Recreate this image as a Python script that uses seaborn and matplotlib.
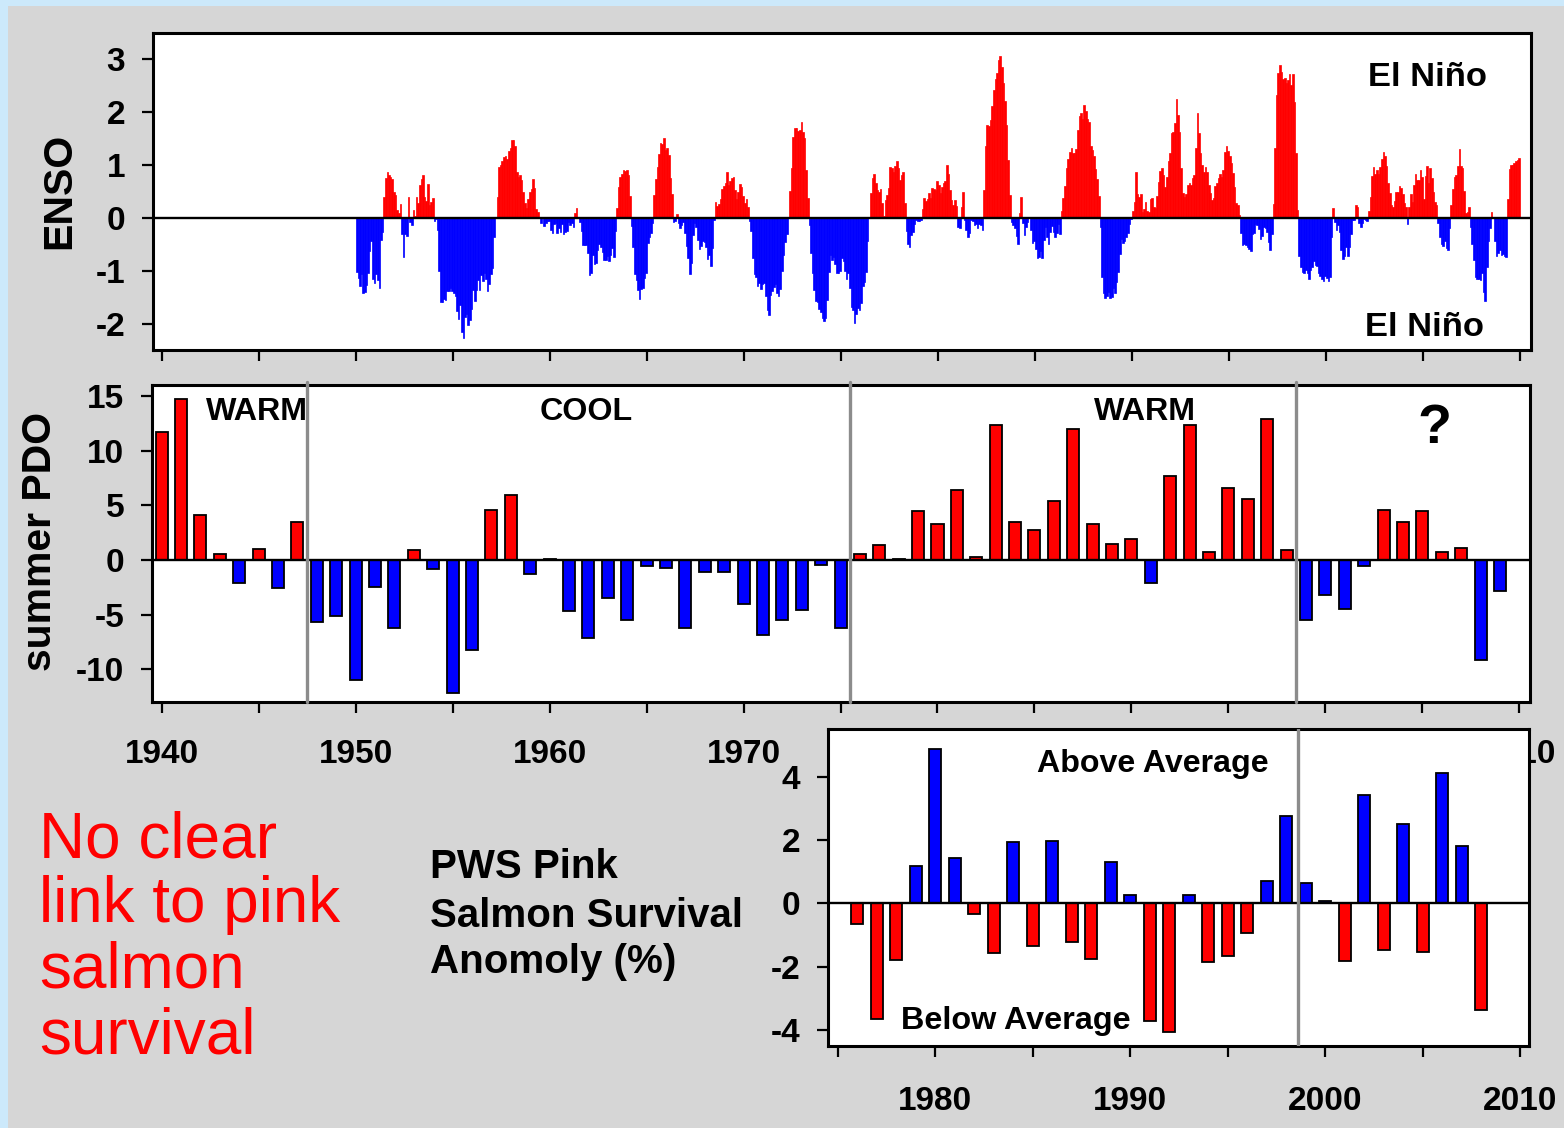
import numpy as np
import pandas as pd
import matplotlib
matplotlib.use("Agg")
import matplotlib.pyplot as plt
from matplotlib.patches import Rectangle
import seaborn as sns

# ---------------- DATA ----------------
# ENSO index, monthly values Jan..Dec for each year (one row per year)
enso_first_year = 1950
enso_1950s = [
    -1.03, -1.13, -1.28, -1.07, -1.43, -1.41, -1.27, -1.04, -0.63, -0.44, -1.15, -1.24,
    -1.06, -1.17, -1.33, -0.41, -0.27, 0.40, 0.75, 0.86, 0.82, 0.78, 0.73, 0.50,
    0.44, 0.15, 0.09, 0.26, -0.31, -0.74, -0.30, -0.34, 0.40, -0.07, -0.14, 0.15,
    0.03, 0.40, 0.28, 0.62, 0.73, 0.81, 0.40, 0.32, 0.64, 0.25, 0.31, 0.37,
    -0.05, -0.02, -0.22, -1.01, -1.59, -1.59, -1.54, -1.55, -1.39, -1.39, -1.32, -1.39,
    -1.43, -1.48, -1.77, -1.92, -1.65, -2.16, -2.27, -1.87, -1.82, -2.02, -1.94, -1.72,
    -1.37, -1.57, -1.37, -1.18, -1.37, -1.08, -1.20, -1.05, -1.16, -1.38, -1.25, -1.06,
    -0.94, -0.36, 0.01, 0.40, 0.97, 1.01, 1.07, 1.15, 1.17, 1.12, 1.27, 1.33,
    1.48, 1.48, 1.36, 0.87, 0.77, 0.82, 0.72, 0.49, 0.29, 0.18, 0.35, 0.50,
    0.54, 0.73, 0.56, 0.16, 0.12, -0.01, -0.09, -0.01, -0.15, -0.10, -0.05, -0.05,
]
enso_1960s = [
    -0.23, -0.29, -0.11, -0.09, -0.29, -0.20, -0.27, -0.12, -0.30, -0.26, -0.24, -0.08,
    -0.13, -0.09, -0.18, 0.09, 0.19, -0.01, -0.08, -0.25, -0.51, -0.51, -0.52, -0.67,
    -1.08, -1.05, -0.70, -0.87, -0.85, -0.61, -0.49, -0.55, -0.65, -0.79, -0.80, -0.72,
    -0.81, -0.70, -0.57, -0.74, -0.24, 0.18, 0.58, 0.77, 0.84, 0.90, 0.88, 0.91,
    0.81, 0.41, -0.16, -0.55, -1.06, -1.17, -1.36, -1.53, -1.34, -1.33, -1.14, -1.05,
    -0.48, -0.36, -0.28, -0.10, 0.44, 0.74, 0.96, 1.21, 1.41, 1.39, 1.51, 1.29,
    1.32, 1.19, 0.75, 0.46, -0.07, -0.05, 0.07, -0.10, -0.19, -0.14, -0.07, -0.28,
    -0.53, -0.76, -1.07, -0.85, -0.32, -0.09, -0.18, -0.41, -0.58, -0.53, -0.43, -0.45,
    -0.55, -0.78, -0.70, -0.91, -0.57, -0.03, 0.31, 0.23, 0.26, 0.35, 0.54, 0.60,
    0.66, 0.87, 0.63, 0.69, 0.75, 0.77, 0.53, 0.35, 0.49, 0.65, 0.58, 0.42,
]
enso_1970s = [
    0.29, 0.35, 0.20, -0.06, -0.24, -0.75, -1.06, -1.11, -1.28, -1.23, -1.34, -1.25,
    -1.23, -1.48, -1.75, -1.84, -1.46, -1.38, -1.31, -1.25, -1.42, -1.47, -1.34, -1.00,
    -0.70, -0.46, -0.31, 0.01, 0.51, 0.95, 1.54, 1.70, 1.71, 1.64, 1.66, 1.82,
    1.63, 1.51, 0.90, 0.38, -0.13, -0.67, -1.04, -1.36, -1.58, -1.60, -1.72, -1.78,
    -1.90, -1.96, -1.90, -1.56, -1.03, -0.70, -0.79, -0.74, -0.88, -1.05, -1.05, -1.01,
    -0.75, -0.81, -1.01, -1.16, -1.05, -1.32, -1.68, -1.74, -1.98, -1.82, -1.70, -1.74,
    -1.61, -1.29, -1.21, -1.02, -0.43, 0.01, 0.47, 0.76, 0.83, 0.66, 0.52, 0.49,
    0.55, 0.28, 0.04, 0.34, 0.43, 0.57, 0.96, 0.94, 0.87, 0.99, 1.07, 0.95,
    0.72, 0.82, 0.86, 0.29, -0.24, -0.50, -0.55, -0.32, -0.26, -0.12, -0.04, -0.05,
    -0.05, -0.03, 0.17, 0.38, 0.32, 0.36, 0.47, 0.37, 0.57, 0.54, 0.53, 0.70,
]
enso_1980s = [
    0.63, 0.48, 0.58, 0.66, 0.70, 1.00, 0.83, 0.53, 0.34, 0.24, 0.34, 0.23,
    -0.17, -0.20, 0.21, 0.49, -0.03, -0.22, -0.37, -0.29, -0.03, -0.05, -0.14, -0.12,
    -0.19, -0.12, -0.14, -0.22, 0.53, 1.36, 1.75, 1.74, 1.86, 2.11, 2.42, 2.62,
    2.74, 2.98, 3.06, 2.85, 2.55, 2.22, 1.75, 1.10, 0.44, -0.08, -0.13, -0.20,
    -0.34, -0.49, 0.10, 0.40, -0.10, -0.33, -0.17, -0.07, 0.00, -0.22, -0.47, -0.43,
    -0.59, -0.76, -0.74, -0.62, -0.75, -0.41, -0.18, -0.37, -0.49, -0.26, -0.15, -0.27,
    -0.37, -0.28, -0.12, -0.30, 0.13, 0.38, 0.60, 0.94, 1.12, 1.24, 1.32, 1.23,
    1.23, 1.30, 1.66, 1.93, 1.98, 1.88, 2.14, 2.02, 1.88, 1.81, 1.36, 1.28,
    1.18, 0.93, 0.74, 0.41, -0.17, -1.11, -1.42, -1.52, -1.48, -1.41, -1.52, -1.50,
    -1.32, -1.42, -1.22, -1.02, -0.69, -0.40, -0.48, -0.43, -0.37, -0.28, -0.11, -0.02,
]
enso_1990s = [
    0.13, 0.31, 0.86, 0.45, 0.40, 0.45, 0.12, 0.16, 0.30, 0.14, 0.11, 0.35,
    0.37, 0.20, 0.18, 0.42, 0.68, 0.88, 0.95, 0.82, 0.58, 0.77, 1.07, 1.22,
    1.61, 1.63, 1.80, 2.26, 1.95, 1.63, 0.95, 0.48, 0.40, 0.46, 0.62, 0.66,
    0.63, 0.75, 0.82, 1.33, 1.99, 1.61, 1.22, 1.00, 0.87, 0.97, 0.87, 0.63,
    0.47, 0.33, 0.38, 0.60, 0.66, 0.75, 0.84, 0.78, 0.90, 1.25, 1.36, 1.26,
    1.17, 1.03, 0.85, 0.58, 0.28, 0.25, 0.05, -0.29, -0.52, -0.50, -0.51, -0.55,
    -0.58, -0.63, -0.30, -0.29, -0.11, -0.13, -0.21, -0.40, -0.35, -0.17, -0.19, -0.26,
    -0.45, -0.60, -0.30, 0.26, 1.32, 2.33, 2.75, 2.89, 2.76, 2.63, 2.64, 2.56,
    2.61, 2.73, 2.52, 2.72, 2.20, 1.23, 0.15, -0.73, -0.93, -1.02, -1.04, -0.99,
    -1.05, -1.15, -0.98, -0.93, -0.82, -0.89, -0.91, -1.04, -1.09, -1.15, -1.19, -1.10,
]
enso_2000s = [
    -1.14, -1.20, -1.11, -0.36, 0.18, -0.07, -0.23, -0.14, -0.27, -0.61, -0.78, -0.72,
    -0.55, -0.72, -0.55, -0.30, -0.04, -0.04, 0.24, 0.21, -0.09, -0.17, -0.09, -0.02,
    -0.04, -0.05, 0.14, 0.39, 0.79, 0.96, 0.83, 0.90, 0.83, 0.96, 1.11, 1.24,
    1.18, 0.99, 0.67, 0.48, 0.24, 0.20, 0.32, 0.49, 0.50, 0.60, 0.56, 0.45,
    0.28, 0.20, -0.12, 0.21, 0.46, 0.31, 0.63, 0.83, 0.71, 0.72, 0.90, 0.78,
    0.35, 0.79, 0.98, 0.66, 0.94, 0.76, 0.50, 0.30, 0.24, -0.09, -0.36, -0.49,
    -0.53, -0.44, -0.57, -0.61, -0.19, 0.24, 0.55, 0.78, 0.81, 0.99, 1.30, 0.99,
    0.94, 0.51, 0.09, 0.11, 0.20, -0.18, -0.49, -0.80, -1.11, -1.15, -1.16, -1.17,
    -1.04, -1.40, -1.57, -0.93, -0.43, -0.19, 0.12, 0.02, -0.43, -0.73, -0.67, -0.60,
    -0.71, -0.69, -0.72, -0.74, 0.35, 0.92, 1.00, 1.00, 1.03, 1.08, 1.10, 1.14,
]

# Summer PDO, one value per year
pdo_years = list(range(1940, 2010))
pdo_values = [
    11.7, 14.7, 4.1, 0.5, -2.1, 1.0, -2.6, 3.5, -5.7, -5.1,
    -11.0, -2.5, -6.2, 0.9, -0.8, -12.2, -8.2, 4.6, 5.9, -1.3,
    0.05, -4.7, -7.1, -3.5, -5.5, -0.55, -0.75, -6.2, -1.1, -1.1,
    -4.0, -6.9, -5.5, -4.6, -0.5, -6.2, 0.5, 1.4, 0.1, 4.5,
    3.3, 6.35, 0.25, 12.3, 3.5, 2.7, 5.4, 12.0, 3.3, 1.45,
    1.9, -2.1, 7.7, 12.3, 0.7, 6.6, 5.6, 12.9, 0.9, -5.5,
    -3.25, -4.5, -0.6, 4.6, 3.5, 4.5, 0.7, 1.05, -9.15, -2.8,
]
pdo_regime_breaks = [1947.5, 1975.5, 1998.5]
pdo_regime_labels = ["WARM", "COOL", "WARM", "?"]

# PWS pink salmon survival anomaly (%)
pink_years = list(range(1976, 2009))
pink_values = [
    -0.65, -3.66, -1.8, 1.17, 4.87, 1.42, -0.35, -1.56, 1.92, -1.36,
    1.97, -1.21, -1.76, 1.32, 0.27, -3.72, -4.06, 0.26, -1.86, -1.65,
    -0.94, 0.72, 2.76, 0.64, 0.08, -1.82, 3.43, -1.46, 2.49, -1.54,
    4.1, 1.81, -3.38,
]
pink_break = 1998.6

enso_yticks = [-2, -1, 0, 1, 2, 3]
pdo_yticks = [-10, -5, 0, 5, 10, 15]
pink_yticks = [-4, -2, 0, 2, 4]
pdo_xticks = [1940, 1950, 1960, 1970, 1980, 1990, 2000, 2010]
# labels of the PDO axis that are hidden behind the lower panel are left blank
pdo_xticklabels = ["1940", "1950", "1960", "1970", "", "", "", "2010"]
pdo_xminor = [1945, 1955, 1965, 1975, 1985, 1995, 2005]
enso_xticks = list(range(1940, 2011, 5))
pink_xticks = [1980, 1990, 2000, 2010]
pink_xminor = [1975, 1985, 1995, 2005]

# ---------------- STYLE ----------------
W, H, DPI = 1564, 1128, 100
RED, BLUE = "#ff0000", "#0000ff"
BG_GRAY, BG_BLUE = "#d6d6d6", "#cce9fb"

sns.set_theme(style="white")
plt.rcParams["font.family"] = ["Liberation Sans", "DejaVu Sans"]
plt.rcParams["font.weight"] = "bold"
plt.rcParams["axes.unicode_minus"] = False

fig = plt.figure(figsize=(W / DPI, H / DPI), dpi=DPI, facecolor=BG_BLUE)
fig.patches.append(Rectangle((8 / W, 0), 1 - 8 / W, 1 - 6 / H, transform=fig.transFigure,
                             facecolor=BG_GRAY, edgecolor="none", zorder=-5))


def box(l, t, r, b):
    return [l / W, 1 - b / H, (r - l) / W, (b - t) / H]


def fx(x):
    return x / W


def fy(y):
    return 1 - y / H


ax1 = fig.add_axes(box(153, 33, 1531, 350))
ax2 = fig.add_axes(box(152, 385, 1530, 702))
ax3 = fig.add_axes(box(828, 729, 1529, 1046))

# ---------------- ENSO ----------------
enso_vals = np.array(enso_1950s + enso_1960s + enso_1970s + enso_1980s + enso_1990s + enso_2000s)
enso_time = enso_first_year + (np.arange(len(enso_vals)) + 0.5) / 12.0
enso_df = pd.DataFrame({"t": enso_time, "v": enso_vals,
                        "s": np.where(enso_vals >= 0, "pos", "neg")})
sns.barplot(data=enso_df, x="t", y="v", hue="s", hue_order=["pos", "neg"],
            palette={"pos": RED, "neg": BLUE}, native_scale=True, width=1.0,
            dodge=False, saturation=1, errorbar=None, legend=False,
            linewidth=0, ax=ax1)
for p in ax1.patches:
    p.set_edgecolor(p.get_facecolor())
    p.set_linewidth(0.5)

# ---------------- PDO ----------------
pdo_arr = np.array(pdo_values)
pdo_df = pd.DataFrame({"year": pdo_years, "v": pdo_arr,
                       "s": np.where(pdo_arr >= 0, "pos", "neg")})
sns.barplot(data=pdo_df, x="year", y="v", hue="s", hue_order=["pos", "neg"],
            palette={"pos": RED, "neg": BLUE}, native_scale=True, width=0.62,
            dodge=False, saturation=1, errorbar=None, legend=False,
            edgecolor="black", linewidth=1.3, ax=ax2)

# ---------------- PINK SALMON ----------------
pink_arr = np.array(pink_values)
pink_df = pd.DataFrame({"year": pink_years, "v": pink_arr,
                        "s": np.where(pink_arr >= 0, "pos", "neg")})
sns.barplot(data=pink_df, x="year", y="v", hue="s", hue_order=["pos", "neg"],
            palette={"pos": BLUE, "neg": RED}, native_scale=True, width=0.62,
            dodge=False, saturation=1, errorbar=None, legend=False,
            edgecolor="black", linewidth=1.3, ax=ax3)

# ---------------- AXES FORMAT ----------------
for ax in (ax1, ax2, ax3):
    ax.set_facecolor("white")
    ax.grid(False)
    ax.set_xlabel("")
    ax.set_ylabel("")
    for s in ax.spines.values():
        s.set_visible(True)
        s.set_color("black")
        s.set_linewidth(2.2)
    ax.axhline(0, color="black", lw=1.7, zorder=3)
    ax.tick_params(which="both", direction="out", length=8, width=1.6, color="black",
                   bottom=True, left=True, top=False, right=False, labelsize=24,
                   labelcolor="black")
    ax.tick_params(axis="y", pad=12)

ax1.set_xlim(1939.54, 2010.57)
ax1.set_ylim(-2.5, 3.5)
ax1.set_xticks(enso_xticks)
ax1.tick_params(axis="x", labelbottom=False)
ax1.set_yticks(enso_yticks)
ax1.set_yticklabels([str(t) for t in enso_yticks])

ax2.set_xlim(1939.5, 2010.55)
ax2.set_ylim(-13, 16)
ax2.set_xticks(pdo_xticks)
ax2.set_xticklabels(pdo_xticklabels)
ax2.set_xticks(pdo_xminor, minor=True)
ax2.set_yticks(pdo_yticks)
ax2.set_yticklabels([str(t) for t in pdo_yticks])
ax2.tick_params(axis="x", pad=18.5)
for xb in pdo_regime_breaks:
    ax2.axvline(xb, color="#8c8c8c", lw=2.4, zorder=4, ymax=1.01, clip_on=False)

ax3.set_xlim(1974.5, 2010.46)
ax3.set_ylim(-4.5, 5.5)
ax3.set_xticks(pink_xticks)
ax3.set_xticklabels([str(t) for t in pink_xticks])
ax3.set_xticks(pink_xminor, minor=True)
ax3.set_yticks(pink_yticks)
ax3.set_yticklabels([str(t) for t in pink_yticks])
ax3.tick_params(axis="x", pad=20.5)
ax3.axvline(pink_break, color="#8c8c8c", lw=2.4, zorder=4)

for ax in (ax1, ax2, ax3):
    for lbl in ax.get_xticklabels() + ax.get_yticklabels():
        lbl.set_fontweight("bold")

# ---------------- TEXT ----------------
fig.text(fx(59), fy(191), "ENSO", rotation=90, ha="center", va="center",
         fontsize=29.5, fontweight="bold", color="black")
fig.text(fx(40), fy(541), "summer PDO", rotation=90, ha="center", va="center",
         fontsize=29.5, fontweight="bold", color="black")

fig.text(fx(1487), fy(86), "El Niño", ha="right", va="baseline", fontsize=24.8,
         fontweight="bold", color="black")
fig.text(fx(1484), fy(336), "El Niño", ha="right", va="baseline", fontsize=24.8,
         fontweight="bold", color="black")

fig.text(fx(206), fy(420), pdo_regime_labels[0], ha="left", va="baseline", fontsize=23.2,
         fontweight="bold", color="black")
fig.text(fx(540), fy(420), pdo_regime_labels[1], ha="left", va="baseline", fontsize=23.2,
         fontweight="bold", color="black")
fig.text(fx(1094), fy(420), pdo_regime_labels[2], ha="left", va="baseline", fontsize=23.2,
         fontweight="bold", color="black")
fig.text(fx(1434), fy(443), pdo_regime_labels[3], ha="center", va="baseline", fontsize=40,
         fontweight="bold", color="black")

fig.text(fx(1037), fy(772), "Above Average", ha="left", va="baseline", fontsize=23.1,
         fontweight="bold", color="black", zorder=5)
fig.text(fx(901), fy(1029), "Below Average", ha="left", va="baseline", fontsize=23.3,
         fontweight="bold", color="black", zorder=5)

for txt, yb in [("PWS Pink", 878), ("Salmon Survival", 927), ("Anomoly (%)", 973)]:
    fig.text(fx(430), fy(yb), txt, ha="left", va="baseline", fontsize=29,
             fontweight="bold", color="black")

for txt, yb in [("No clear", 857), ("link to pink", 922), ("salmon", 987), ("survival", 1053)]:
    fig.text(fx(39), fy(yb), txt, ha="left", va="baseline", fontsize=46,
             fontweight="normal", color=RED)

fig.savefig("out.png", dpi=DPI, facecolor=fig.get_facecolor())
